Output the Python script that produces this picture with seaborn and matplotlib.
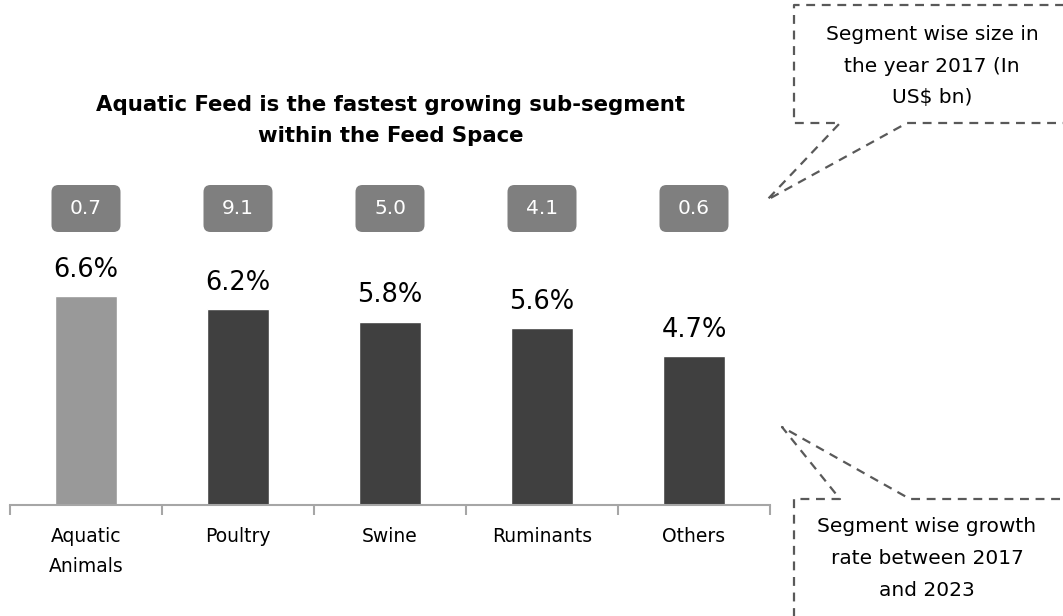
import matplotlib
matplotlib.use("Agg")
import matplotlib.pyplot as plt
import seaborn as sns
import pandas as pd
from matplotlib.patches import FancyBboxPatch
from matplotlib.lines import Line2D

categories = ["Aquatic\nAnimals", "Poultry", "Swine", "Ruminants", "Others"]
growth = [6.6, 6.2, 5.8, 5.6, 4.7]
size_2017 = ["0.7", "9.1", "5.0", "4.1", "0.6"]
bar_colors = ["#999999", "#404040", "#404040", "#404040", "#404040"]
title_lines = ["Aquatic Feed is the fastest growing sub-segment", "within the Feed Space"]
callout_top = ["Segment wise size in", "the year 2017 (In", "US$ bn)"]
callout_bottom = ["Segment wise growth", "rate between 2017", "and 2023"]

sns.set_theme(style="white")
plt.rcParams["font.family"] = ["DejaVu Sans"]

W, H = 1063, 616
fig = plt.figure(figsize=(W / 100, H / 100), dpi=100)
# axes: x from 10px to 770px, y bottom at 505px, 9 units tall at ~31.6 px/unit
ax = fig.add_axes([10 / W, (H - 505) / H, 760 / W, 284.4 / H])

df = pd.DataFrame({"cat": categories, "growth": growth})
sns.barplot(data=df, x="cat", y="growth", hue="cat", palette=bar_colors,
            width=0.41, legend=False, ax=ax, saturation=1)

ax.set_xlim(-0.5, len(categories) - 0.5)
ax.set_ylim(0, 9)
ax.set_xlabel("")
ax.set_ylabel("")
ax.set_yticks([])
for s in ["top", "right", "left"]:
    ax.spines[s].set_visible(False)
ax.spines["bottom"].set_color("#a6a6a6")
ax.spines["bottom"].set_linewidth(1.5)

ax.set_xticks(range(len(categories)))
ax.set_xticklabels(categories, fontsize=13.5, color="#000000", linespacing=1.75)
ax.tick_params(axis="x", which="major", length=0, pad=16)
ax.set_xticks([i - 0.5 for i in range(len(categories) + 1)], minor=True)
ax.tick_params(axis="x", which="minor", length=7.5, width=1.5, color="#a6a6a6",
               direction="out", bottom=True)

# percent labels above bars
for i, v in enumerate(growth):
    ax.annotate(f"{v:.1f}%", xy=(i, v), xytext=(0, 19), textcoords="offset points",
                ha="center", va="center", fontsize=18.5, color="#000000")

fig.canvas.draw()
# size boxes (grey rounded) above each bar, in pixel coords
box_w, box_h, box_cy = 69, 47, 616 - 208.5
for i, lab in enumerate(size_2017):
    cx = ax.transData.transform((i, 0))[0]
    p = FancyBboxPatch((cx - box_w / 2, box_cy - box_h / 2), box_w, box_h,
                       boxstyle="round,pad=0,rounding_size=7", fc="#7f7f7f", ec="none",
                       transform=None)
    fig.patches.append(p)
    fig.text(cx / W, box_cy / H, lab, ha="center", va="center", fontsize=14.5,
             color="white")

# title
for j, t in enumerate(title_lines):
    fig.text(391 / W, 1 - (105 + 31 * j) / H, t, ha="center", va="center",
             fontsize=15.3, fontweight="bold", color="#000000")

# callouts (dashed)
dash_kw = dict(color="#595959", lw=1.6, linestyle=(0, (4, 3)), transform=None)
def poly(pts):
    xs = [p[0] for p in pts]
    ys = [H - p[1] for p in pts]
    fig.lines.append(Line2D(xs, ys, **dash_kw))

poly([(1070, 5), (794, 5), (794, 123), (840, 123), (767, 200), (907, 123), (1070, 123)])
poly([(794, 630), (794, 499), (840, 499), (782, 427), (910, 499), (1070, 499)])

for j, t in enumerate(callout_top):
    fig.text(932 / W, 1 - (35 + 31.5 * j) / H, t, ha="center", va="center",
             fontsize=14.5, color="#000000")
for j, t in enumerate(callout_bottom):
    fig.text(927 / W, 1 - (527 + 31.5 * j) / H, t, ha="center", va="center",
             fontsize=14.5, color="#000000")

fig.savefig("out.png", dpi=100, facecolor="white")
